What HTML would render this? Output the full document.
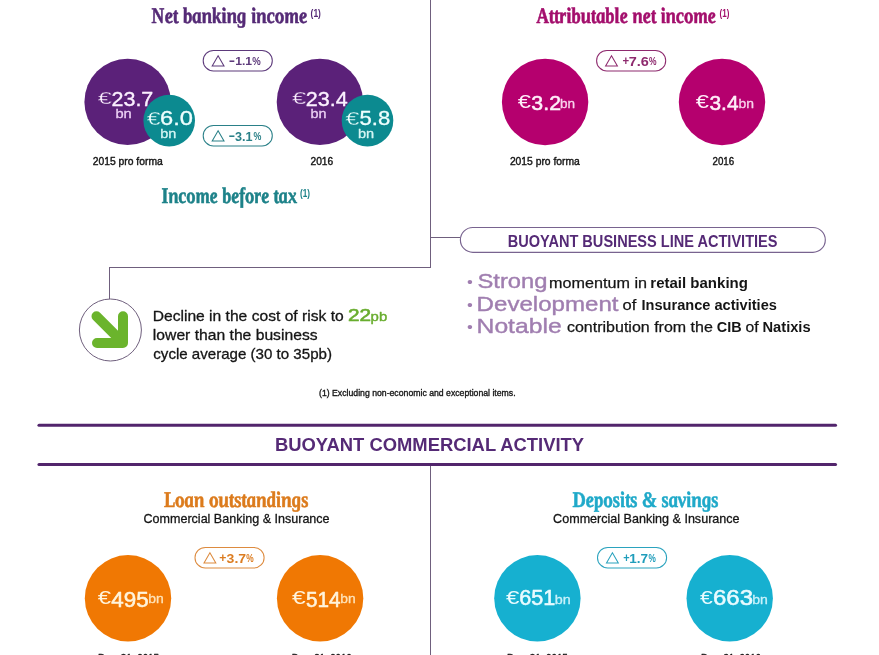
<!DOCTYPE html>
<html lang="en">
<head>
<meta charset="utf-8">
<title>Key figures 2016</title>
<style>
html,body{margin:0;padding:0;background:#fff;}
body{width:879px;height:655px;overflow:hidden;font-family:"Liberation Sans",sans-serif;}
.page{position:relative;width:879px;height:655px;overflow:hidden;background:#fff;}
.page svg{position:absolute;left:0;top:0;display:block;}
text{font-family:"Liberation Sans",sans-serif;white-space:pre;}
text.sc{font-family:"Liberation Serif",serif;}
</style>
</head>
<body>
<div class="page">
<svg width="879" height="655" viewBox="0 0 879 655" role="img" aria-label="Key figures infographic">
<g id="rules">
<line x1="430.5" y1="0" x2="430.5" y2="268" stroke="#6f5f7d" stroke-width="1" stroke-linecap="butt"/>
<line x1="109" y1="267.5" x2="431" y2="267.5" stroke="#6f5f7d" stroke-width="1" stroke-linecap="butt"/>
<line x1="109.5" y1="267" x2="109.5" y2="299.2" stroke="#6f5f7d" stroke-width="1" stroke-linecap="butt"/>
<line x1="430.5" y1="237.5" x2="460" y2="237.5" stroke="#6f5f7d" stroke-width="1" stroke-linecap="butt"/>
<line x1="430.5" y1="464.5" x2="430.5" y2="655" stroke="#6f5f7d" stroke-width="1" stroke-linecap="butt"/>
<line x1="39" y1="425.2" x2="835.5" y2="425.2" stroke="#52256c" stroke-width="3.1" stroke-linecap="round"/>
<line x1="39" y1="464.5" x2="835.5" y2="464.5" stroke="#52256c" stroke-width="3.1" stroke-linecap="round"/>
</g>
<g id="net-banking-income">
<text x="151.99" y="23.10" font-size="22.3" font-weight="bold" font-style="italic" class="sc" fill="#552a76" stroke="#552a76" stroke-width="0.6" stroke-linejoin="round" textLength="156.11" lengthAdjust="spacingAndGlyphs" transform="translate(151.99 23.10) skewX(8) translate(-151.99 -23.10)">Net banking income</text>
<text x="310.58" y="16.60" font-size="11.5" font-weight="bold" fill="#552a76" textLength="10.34" lengthAdjust="spacingAndGlyphs">(1)</text>
<circle cx="127.6" cy="101.9" r="43.2" fill="#5b2179"/>
<circle cx="169.2" cy="120.6" r="25.8" fill="#0c8a90"/>
<circle cx="319.9" cy="101.9" r="43.2" fill="#5b2179"/>
<circle cx="367.5" cy="120.6" r="25.8" fill="#0c8a90"/>
<text x="97.81" y="104.20" font-size="17.2" fill="#fbf0ff" stroke="#5b2179" stroke-width="0.35" stroke-linejoin="round" textLength="14.14" lengthAdjust="spacingAndGlyphs">€</text>
<text x="111.50" y="105.80" font-size="20" fill="#fbf0ff" stroke="#fbf0ff" stroke-width="0.35" stroke-linejoin="round" textLength="41.83" lengthAdjust="spacingAndGlyphs">23.7</text>
<text x="115.40" y="117.80" font-size="13.2" fill="#ecd0f5" stroke="#ecd0f5" stroke-width="0.3" stroke-linejoin="round" textLength="16.30" lengthAdjust="spacingAndGlyphs">bn</text>
<text x="146.81" y="124.50" font-size="18.06" fill="#eefffe" stroke="#0c8a90" stroke-width="0.35" stroke-linejoin="round" textLength="13.93" lengthAdjust="spacingAndGlyphs">€</text>
<text x="159.99" y="124.50" font-size="21" fill="#eefffe" stroke="#eefffe" stroke-width="0.35" stroke-linejoin="round" textLength="32.93" lengthAdjust="spacingAndGlyphs">6.0</text>
<text x="160.31" y="137.70" font-size="13.2" fill="#d4f6f4" stroke="#d4f6f4" stroke-width="0.3" stroke-linejoin="round" textLength="16.08" lengthAdjust="spacingAndGlyphs">bn</text>
<text x="292.11" y="104.20" font-size="17.2" fill="#fbf0ff" stroke="#5b2179" stroke-width="0.35" stroke-linejoin="round" textLength="14.35" lengthAdjust="spacingAndGlyphs">€</text>
<text x="305.70" y="105.80" font-size="20" fill="#fbf0ff" stroke="#fbf0ff" stroke-width="0.35" stroke-linejoin="round" textLength="41.95" lengthAdjust="spacingAndGlyphs">23.4</text>
<text x="310.62" y="117.80" font-size="13.2" fill="#ecd0f5" stroke="#ecd0f5" stroke-width="0.3" stroke-linejoin="round" textLength="15.96" lengthAdjust="spacingAndGlyphs">bn</text>
<text x="345.51" y="125.00" font-size="18.06" fill="#eefffe" stroke="#0c8a90" stroke-width="0.35" stroke-linejoin="round" textLength="14.03" lengthAdjust="spacingAndGlyphs">€</text>
<text x="359.49" y="125.00" font-size="21" fill="#eefffe" stroke="#eefffe" stroke-width="0.35" stroke-linejoin="round" textLength="30.67" lengthAdjust="spacingAndGlyphs">5.8</text>
<text x="357.90" y="137.80" font-size="13.2" fill="#d4f6f4" stroke="#d4f6f4" stroke-width="0.3" stroke-linejoin="round" textLength="16.19" lengthAdjust="spacingAndGlyphs">bn</text>
<rect x="203.2" y="50.4" width="69.10" height="20.60" rx="10.30" fill="#fff" stroke="#5d3a7b" stroke-width="1.05"/>
<path d="M218.10 55.80 L224.00 66.00 L212.20 66.00 Z" fill="none" stroke="#5d3a7b" stroke-width="1.05" stroke-linejoin="miter"/>
<text x="228.84" y="65.10" font-size="12" font-weight="bold" fill="#5d3a7b" textLength="6.33" lengthAdjust="spacingAndGlyphs">-</text>
<text x="235.24" y="64.90" font-size="11.6" font-weight="bold" fill="#5d3a7b" textLength="16.90" lengthAdjust="spacingAndGlyphs">1.1</text>
<text x="252.26" y="65.00" font-size="10.3" font-weight="bold" fill="#5d3a7b" textLength="8.49" lengthAdjust="spacingAndGlyphs">%</text>
<rect x="203.2" y="125.4" width="69.10" height="20.60" rx="10.30" fill="#fff" stroke="#2a8088" stroke-width="1.05"/>
<path d="M218.10 130.80 L224.00 141.00 L212.20 141.00 Z" fill="none" stroke="#2a8088" stroke-width="1.05" stroke-linejoin="miter"/>
<text x="228.49" y="140.10" font-size="12" font-weight="bold" fill="#2a8088" textLength="6.73" lengthAdjust="spacingAndGlyphs">-</text>
<text x="235.12" y="140.90" font-size="12.6" font-weight="bold" fill="#2a8088" textLength="17.53" lengthAdjust="spacingAndGlyphs">3.1</text>
<text x="253.38" y="140.00" font-size="10.3" font-weight="bold" fill="#2a8088" textLength="7.86" lengthAdjust="spacingAndGlyphs">%</text>
<text x="92.68" y="165.10" font-size="11" fill="#151515" stroke="#151515" stroke-width="0.4" stroke-linejoin="round" textLength="70.11" lengthAdjust="spacingAndGlyphs">2015 pro forma</text>
<text x="310.49" y="165.10" font-size="11" fill="#151515" stroke="#151515" stroke-width="0.4" stroke-linejoin="round" textLength="22.77" lengthAdjust="spacingAndGlyphs">2016</text>
<text x="162.28" y="202.80" font-size="22.3" font-weight="bold" font-style="italic" class="sc" fill="#1d8289" stroke="#1d8289" stroke-width="0.6" stroke-linejoin="round" textLength="135.39" lengthAdjust="spacingAndGlyphs" transform="translate(162.28 202.80) skewX(8) translate(-162.28 -202.80)">Income before tax</text>
<text x="300.09" y="196.50" font-size="11.5" font-weight="bold" fill="#1d8289" textLength="10.02" lengthAdjust="spacingAndGlyphs">(1)</text>
</g>
<g id="attributable-net-income">
<text x="537.47" y="23.20" font-size="22.3" font-weight="bold" font-style="italic" class="sc" fill="#a30e6c" stroke="#a30e6c" stroke-width="0.6" stroke-linejoin="round" textLength="179.21" lengthAdjust="spacingAndGlyphs" transform="translate(537.47 23.20) skewX(8) translate(-537.47 -23.20)">Attributable net income</text>
<text x="719.60" y="16.60" font-size="11.5" font-weight="bold" fill="#a30e6c" textLength="9.80" lengthAdjust="spacingAndGlyphs">(1)</text>
<circle cx="545.1" cy="102" r="43.2" fill="#b5006e"/>
<circle cx="722.0" cy="102" r="43.2" fill="#b5006e"/>
<text x="517.82" y="108.40" font-size="18.06" fill="#fff0fa" textLength="13.20" lengthAdjust="spacingAndGlyphs">€</text>
<text x="531.38" y="109.90" font-size="21" fill="#fff0fa" stroke="#fff0fa" stroke-width="0.55" stroke-linejoin="round" textLength="29.62" lengthAdjust="spacingAndGlyphs">3.2</text>
<text x="560.07" y="108.30" font-size="13.6" fill="#f9d3ec" stroke="#f9d3ec" stroke-width="0.3" stroke-linejoin="round" textLength="15.06" lengthAdjust="spacingAndGlyphs">bn</text>
<text x="695.72" y="108.40" font-size="18.06" fill="#fff0fa" textLength="13.20" lengthAdjust="spacingAndGlyphs">€</text>
<text x="709.49" y="109.90" font-size="21" fill="#fff0fa" stroke="#fff0fa" stroke-width="0.55" stroke-linejoin="round" textLength="29.01" lengthAdjust="spacingAndGlyphs">3.4</text>
<text x="738.44" y="108.30" font-size="13.6" fill="#f9d3ec" stroke="#f9d3ec" stroke-width="0.3" stroke-linejoin="round" textLength="15.51" lengthAdjust="spacingAndGlyphs">bn</text>
<rect x="596.6" y="50.4" width="69.10" height="20.60" rx="10.30" fill="#fff" stroke="#8e2a6e" stroke-width="1.05"/>
<path d="M611.50 55.80 L617.40 66.00 L605.60 66.00 Z" fill="none" stroke="#8e2a6e" stroke-width="1.05" stroke-linejoin="miter"/>
<text x="622.52" y="65.10" font-size="12" font-weight="bold" fill="#8e2a6e" textLength="6.66" lengthAdjust="spacingAndGlyphs">+</text>
<text x="628.78" y="66.10" font-size="13" font-weight="bold" fill="#8e2a6e" textLength="20.12" lengthAdjust="spacingAndGlyphs">7.6</text>
<text x="648.99" y="65.00" font-size="10.3" font-weight="bold" fill="#8e2a6e" textLength="7.54" lengthAdjust="spacingAndGlyphs">%</text>
<text x="509.88" y="165.10" font-size="11" fill="#151515" stroke="#151515" stroke-width="0.4" stroke-linejoin="round" textLength="69.91" lengthAdjust="spacingAndGlyphs">2015 pro forma</text>
<text x="712.51" y="165.10" font-size="11" fill="#151515" stroke="#151515" stroke-width="0.4" stroke-linejoin="round" textLength="21.72" lengthAdjust="spacingAndGlyphs">2016</text>
</g>
<g id="cost-of-risk">
<circle cx="110.4" cy="330" r="31" fill="#fff" stroke="#6f5f7d" stroke-width="1"/>
<path d="M96.5 316.2 L123 342.7 M123 316.2 L123 343 L97 343" fill="none" stroke="#6bb42c" stroke-width="10" stroke-linecap="round" stroke-linejoin="round"/>
<text x="152.66" y="320.70" font-size="15" fill="#151515" stroke="#151515" stroke-width="0.3" stroke-linejoin="round" textLength="191.02" lengthAdjust="spacingAndGlyphs">Decline in the cost of risk to</text>
<text x="348.06" y="320.80" font-size="17.0" fill="#69ad2f" stroke="#69ad2f" stroke-width="0.6" stroke-linejoin="round" textLength="23.13" lengthAdjust="spacingAndGlyphs">22</text>
<text x="370.63" y="320.80" font-size="12.8" fill="#69ad2f" stroke="#69ad2f" stroke-width="0.4" stroke-linejoin="round" textLength="16.60" lengthAdjust="spacingAndGlyphs">pb</text>
<text x="152.89" y="340.10" font-size="15" fill="#151515" stroke="#151515" stroke-width="0.3" stroke-linejoin="round" textLength="164.69" lengthAdjust="spacingAndGlyphs">lower than the business</text>
<text x="153.31" y="359.30" font-size="15" fill="#151515" stroke="#151515" stroke-width="0.3" stroke-linejoin="round" textLength="178.66" lengthAdjust="spacingAndGlyphs">cycle average (30 to 35pb)</text>
</g>
<g id="business-lines">
<rect x="460.4" y="227.5" width="364.90" height="24.80" rx="12.40" fill="#fff" stroke="#78638f" stroke-width="1.15"/>
<text x="507.72" y="246.80" font-size="16" font-weight="bold" fill="#552a76" textLength="269.76" lengthAdjust="spacingAndGlyphs">BUOYANT BUSINESS LINE ACTIVITIES</text>
<text x="467.03" y="287.40" font-size="15" fill="#a07eb0" textLength="5.84" lengthAdjust="spacingAndGlyphs">•</text>
<text x="477.53" y="288.20" font-size="20.8" fill="#a07eb0" stroke="#a07eb0" stroke-width="0.4" stroke-linejoin="round" textLength="69.99" lengthAdjust="spacingAndGlyphs">Strong</text>
<text x="549.13" y="287.90" font-size="14.5" fill="#151515" stroke="#151515" stroke-width="0.25" stroke-linejoin="round" textLength="97.85" lengthAdjust="spacingAndGlyphs">momentum in</text>
<text x="650.32" y="287.90" font-size="14.5" font-weight="bold" fill="#151515" textLength="97.58" lengthAdjust="spacingAndGlyphs">retail banking</text>
<text x="467.03" y="309.90" font-size="15" fill="#a07eb0" textLength="5.84" lengthAdjust="spacingAndGlyphs">•</text>
<text x="476.61" y="310.70" font-size="20.8" fill="#a07eb0" stroke="#a07eb0" stroke-width="0.4" stroke-linejoin="round" textLength="141.96" lengthAdjust="spacingAndGlyphs">Development</text>
<text x="622.63" y="310.40" font-size="14.5" fill="#151515" stroke="#151515" stroke-width="0.25" stroke-linejoin="round" textLength="13.73" lengthAdjust="spacingAndGlyphs">of</text>
<text x="641.52" y="310.40" font-size="14.5" font-weight="bold" fill="#151515" textLength="135.37" lengthAdjust="spacingAndGlyphs">Insurance activities</text>
<text x="467.03" y="331.80" font-size="15" fill="#a07eb0" textLength="5.84" lengthAdjust="spacingAndGlyphs">•</text>
<text x="476.56" y="332.60" font-size="20.8" fill="#a07eb0" stroke="#a07eb0" stroke-width="0.4" stroke-linejoin="round" textLength="85.13" lengthAdjust="spacingAndGlyphs">Notable</text>
<text x="566.94" y="332.30" font-size="14.5" fill="#151515" stroke="#151515" stroke-width="0.25" stroke-linejoin="round" textLength="145.93" lengthAdjust="spacingAndGlyphs">contribution from the</text>
<text x="716.82" y="332.30" font-size="14.5" font-weight="bold" fill="#151515" textLength="24.82" lengthAdjust="spacingAndGlyphs">CIB</text>
<text x="745.56" y="332.30" font-size="14.5" fill="#151515" stroke="#151515" stroke-width="0.25" stroke-linejoin="round" textLength="13.10" lengthAdjust="spacingAndGlyphs">of</text>
<text x="762.51" y="332.30" font-size="14.5" font-weight="bold" fill="#151515" textLength="48.10" lengthAdjust="spacingAndGlyphs">Natixis</text>
</g>
<text x="319.03" y="395.60" font-size="9.2" fill="#151515" stroke="#151515" stroke-width="0.35" stroke-linejoin="round" textLength="196.59" lengthAdjust="spacingAndGlyphs">(1) Excluding non-economic and exceptional items.</text>
<g id="commercial-activity">
<text x="274.96" y="450.60" font-size="18.2" font-weight="bold" fill="#552a76" textLength="309.16" lengthAdjust="spacingAndGlyphs">BUOYANT COMMERCIAL ACTIVITY</text>
<text x="164.44" y="507.20" font-size="22.3" font-weight="bold" font-style="italic" class="sc" fill="#dc7b1c" stroke="#dc7b1c" stroke-width="0.6" stroke-linejoin="round" textLength="144.87" lengthAdjust="spacingAndGlyphs" transform="translate(164.44 507.20) skewX(8) translate(-164.44 -507.20)">Loan outstandings</text>
<text x="143.52" y="523.00" font-size="13" fill="#151515" stroke="#151515" stroke-width="0.3" stroke-linejoin="round" textLength="186.06" lengthAdjust="spacingAndGlyphs">Commercial Banking &amp; Insurance</text>
<circle cx="128.0" cy="598.3" r="43.2" fill="#f07803"/>
<circle cx="320.1" cy="598.3" r="43.2" fill="#f07803"/>
<text x="97.72" y="604.40" font-size="19.264" fill="#fff4dc" textLength="13.31" lengthAdjust="spacingAndGlyphs">€</text>
<text x="111.37" y="606.90" font-size="22.4" fill="#fff4dc" stroke="#fff4dc" stroke-width="0.55" stroke-linejoin="round" textLength="37.37" lengthAdjust="spacingAndGlyphs">495</text>
<text x="148.24" y="603.40" font-size="13.4" fill="#ffe3b8" stroke="#ffe3b8" stroke-width="0.3" stroke-linejoin="round" textLength="15.51" lengthAdjust="spacingAndGlyphs">bn</text>
<text x="291.92" y="604.40" font-size="18.919999999999998" fill="#fff4dc" textLength="13.62" lengthAdjust="spacingAndGlyphs">€</text>
<text x="306.05" y="606.60" font-size="22" fill="#fff4dc" stroke="#fff4dc" stroke-width="0.55" stroke-linejoin="round" textLength="34.57" lengthAdjust="spacingAndGlyphs">514</text>
<text x="340.35" y="603.40" font-size="13.4" fill="#ffe3b8" stroke="#ffe3b8" stroke-width="0.3" stroke-linejoin="round" textLength="15.40" lengthAdjust="spacingAndGlyphs">bn</text>
<rect x="195.0" y="547.4" width="69.10" height="20.60" rx="10.30" fill="#fff" stroke="#dd8b3f" stroke-width="1.05"/>
<path d="M209.90 552.80 L215.80 563.00 L204.00 563.00 Z" fill="none" stroke="#dd8b3f" stroke-width="1.05" stroke-linejoin="miter"/>
<text x="219.38" y="562.10" font-size="12" font-weight="bold" fill="#dc7d22" textLength="7.12" lengthAdjust="spacingAndGlyphs">+</text>
<text x="226.58" y="563.30" font-size="13" font-weight="bold" fill="#dc7d22" textLength="19.52" lengthAdjust="spacingAndGlyphs">3.7</text>
<text x="246.29" y="562.00" font-size="10.3" font-weight="bold" fill="#dc7d22" textLength="7.43" lengthAdjust="spacingAndGlyphs">%</text>
<text x="97.99" y="661.50" font-size="11" fill="#151515" stroke="#151515" stroke-width="0.4" stroke-linejoin="round" textLength="61.02" lengthAdjust="spacingAndGlyphs">Dec. 31, 2015</text>
<text x="291.81" y="661.50" font-size="11" fill="#151515" stroke="#151515" stroke-width="0.4" stroke-linejoin="round" textLength="59.82" lengthAdjust="spacingAndGlyphs">Dec. 31, 2016</text>
<text x="573.04" y="507.20" font-size="22.3" font-weight="bold" font-style="italic" class="sc" fill="#1fa9c9" stroke="#1fa9c9" stroke-width="0.6" stroke-linejoin="round" textLength="146.25" lengthAdjust="spacingAndGlyphs" transform="translate(573.04 507.20) skewX(8) translate(-573.04 -507.20)">Deposits &amp; savings</text>
<text x="553.12" y="523.00" font-size="13" fill="#151515" stroke="#151515" stroke-width="0.3" stroke-linejoin="round" textLength="186.47" lengthAdjust="spacingAndGlyphs">Commercial Banking &amp; Insurance</text>
<circle cx="537.4" cy="598.3" r="43.2" fill="#16b0d0"/>
<circle cx="729.7" cy="598.3" r="43.2" fill="#16b0d0"/>
<text x="505.92" y="603.80" font-size="18.576" fill="#e9fbff" textLength="13.41" lengthAdjust="spacingAndGlyphs">€</text>
<text x="519.29" y="605.30" font-size="21.6" fill="#e9fbff" stroke="#e9fbff" stroke-width="0.55" stroke-linejoin="round" textLength="36.08" lengthAdjust="spacingAndGlyphs">651</text>
<text x="554.82" y="603.70" font-size="13.4" fill="#c9f2fb" stroke="#c9f2fb" stroke-width="0.3" stroke-linejoin="round" textLength="15.96" lengthAdjust="spacingAndGlyphs">bn</text>
<text x="700.03" y="603.80" font-size="18.576" fill="#e9fbff" textLength="12.79" lengthAdjust="spacingAndGlyphs">€</text>
<text x="712.98" y="605.20" font-size="21.6" fill="#e9fbff" stroke="#e9fbff" stroke-width="0.55" stroke-linejoin="round" textLength="39.99" lengthAdjust="spacingAndGlyphs">663</text>
<text x="752.24" y="603.70" font-size="13.4" fill="#c9f2fb" stroke="#c9f2fb" stroke-width="0.3" stroke-linejoin="round" textLength="15.62" lengthAdjust="spacingAndGlyphs">bn</text>
<rect x="597.5" y="547.4" width="69.10" height="20.60" rx="10.30" fill="#fff" stroke="#2ba3be" stroke-width="1.05"/>
<path d="M612.40 552.80 L618.30 563.00 L606.50 563.00 Z" fill="none" stroke="#2ba3be" stroke-width="1.05" stroke-linejoin="miter"/>
<text x="623.13" y="562.10" font-size="12" font-weight="bold" fill="#1f9dbb" textLength="6.42" lengthAdjust="spacingAndGlyphs">+</text>
<text x="629.25" y="563.10" font-size="12.6" font-weight="bold" fill="#1f9dbb" textLength="18.82" lengthAdjust="spacingAndGlyphs">1.7</text>
<text x="648.39" y="562.00" font-size="10.3" font-weight="bold" fill="#1f9dbb" textLength="7.33" lengthAdjust="spacingAndGlyphs">%</text>
<text x="506.99" y="661.50" font-size="11" fill="#151515" stroke="#151515" stroke-width="0.4" stroke-linejoin="round" textLength="60.81" lengthAdjust="spacingAndGlyphs">Dec. 31, 2015</text>
<text x="701.01" y="661.50" font-size="11" fill="#151515" stroke="#151515" stroke-width="0.4" stroke-linejoin="round" textLength="59.82" lengthAdjust="spacingAndGlyphs">Dec. 31, 2016</text>
</g>
</svg>
</div>
</body>
</html>
